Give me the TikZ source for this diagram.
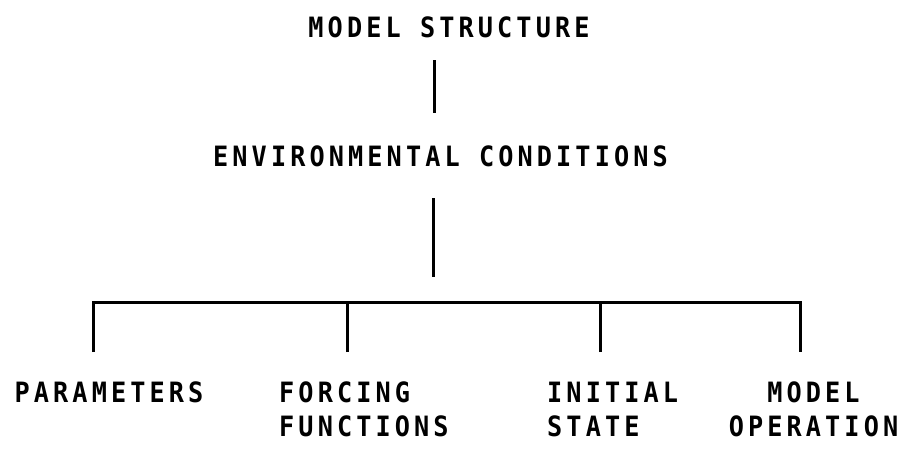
\documentclass[tikz,border=0pt]{standalone}
\usepackage{fontspec}
\newfontfamily\plotfont[LetterSpace=14.7,FakeStretch=0.9]{DejaVu Sans Mono Bold}
\begin{document}
\begin{tikzpicture}[x=1pt,y=1pt,
  lbl/.style={inner sep=0pt, font=\fontsize{28}{34}\selectfont\plotfont},
  wire/.style={line width=3pt, line cap=butt}]
\useasboundingbox (0,0) rectangle (899,-450);
\node[lbl] (ms) at (449,-27) {MODEL STRUCTURE};
\node[lbl] (ec) at (440.5,-156.5) {ENVIRONMENTAL CONDITIONS};
\node[lbl] (pa) at (109,-392.5) {PARAMETERS};
\node[lbl, align=left, anchor=west] (ff) at (279,-409) {FORCING\\FUNCTIONS};
\node[lbl, align=left, anchor=west] (is) at (547,-409) {INITIAL\\STATE};
\node[lbl, align=center] (mo) at (813.5,-409) {MODEL\\OPERATION};
\coordinate (a1) at (434,-60);
\coordinate (a2) at (434,-113);
\coordinate (b1) at (433,-198);
\coordinate (b2) at (433,-277);
\coordinate (bl) at (93,-302);
\coordinate (br) at (800,-302);
\coordinate (d1) at (93,-352);
\coordinate (d2) at (347,-352);
\coordinate (d3) at (600,-352);
\coordinate (d4) at (800,-352);
\draw[wire] (a1) -- (a2);
\draw[wire] (b1) -- (b2);
\draw[wire] (d1) -- (bl) -- (br) -- (d4);
\draw[wire] (d2) -- (d2 |- bl);
\draw[wire] (d3) -- (d3 |- bl);
\end{tikzpicture}
\end{document}
